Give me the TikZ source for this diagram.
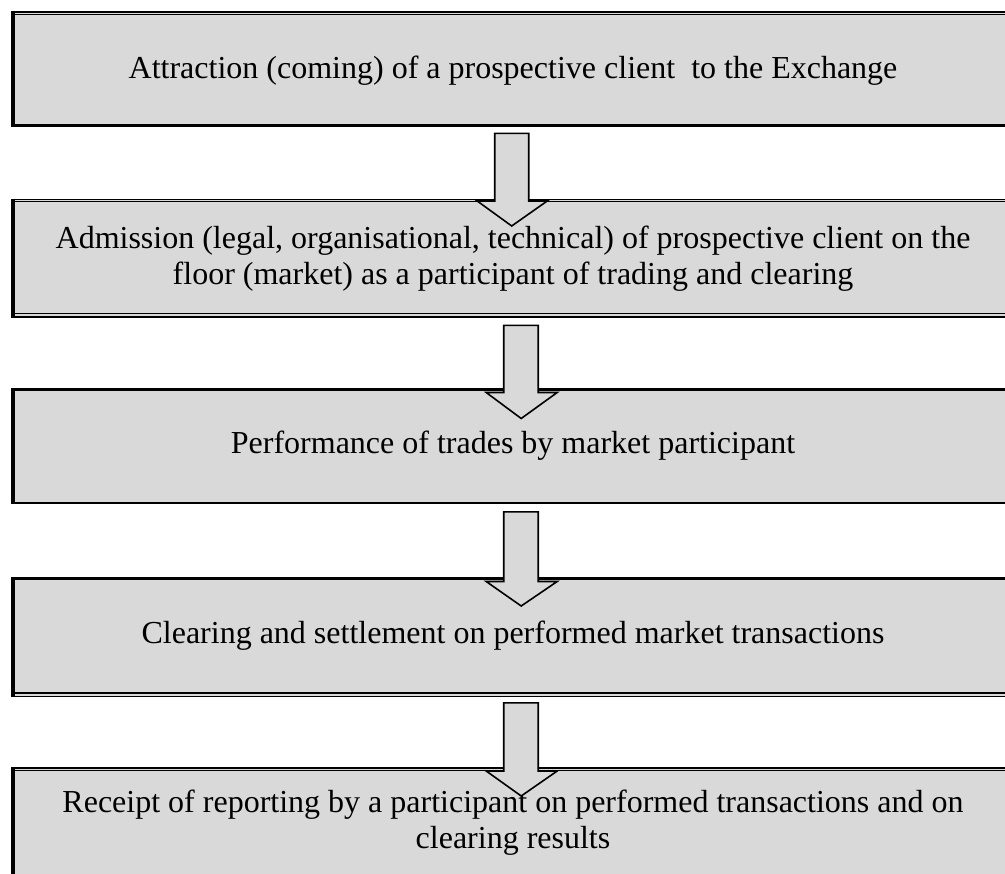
\documentclass[tikz,border=0pt]{standalone}
\usepackage{fontspec}
\setmainfont{Liberation Serif}
\usetikzlibrary{calc}
\definecolor{boxgray}{HTML}{D9D9D9}
\begin{document}
\begin{tikzpicture}[x=1pt,y=-1pt,
  box/.style={fill=boxgray, draw=none, inner sep=0pt, anchor=north west, minimum width=1005pt},
  caption/.style={font=\fontsize{32}{37}\selectfont, inner sep=0pt, anchor=base},
  leftrule/.style={line width=4pt},
  heavyrule/.style={line width=3pt},
  midrule/.style={line width=2pt},
  thinrule/.style={line width=1pt},
  blockarrow/.style={fill=boxgray, draw=black, line width=1.6pt, line join=miter}]
\useasboundingbox (0,0) rectangle (1005,874);
\clip (0,0) rectangle (1005,874);

% process boxes (open on the right side)
\node[box, minimum height=116pt] (b1) at (11,11) {};
\node[box, minimum height=119pt] (b2) at (11,199) {};
\node[box, minimum height=115pt] (b3) at (11,388.5) {};
\node[box, minimum height=119pt] (b4) at (11,577.5) {};
\node[box, minimum height=140pt] (b5) at (11,767) {};

% box 1 edges
\draw[midrule]   ($(b1.north west)+(0,1)$) -- ($(b1.north east)+(0,1)$);
\draw[thinrule]  ($(b1.north west)+(0,4)$) -- ($(b1.north east)+(0,4)$);
\draw[heavyrule] ($(b1.south west)+(0,-1.5)$) -- ($(b1.south east)+(0,-1.5)$);
\draw[leftrule]  ($(b1.north west)+(2,0)$) -- ($(b1.south west)+(2,0)$);

% box 2 edges
\draw[thinrule]  ($(b2.north west)+(0,0.5)$) -- ($(b2.north east)+(0,0.5)$);
\draw[thinrule]  ($(b2.north west)+(0,3)$) -- ($(b2.north east)+(0,3)$);
\draw[thinrule]  ($(b2.south west)+(0,-4.5)$) -- ($(b2.south east)+(0,-4.5)$);
\draw[midrule]   ($(b2.south west)+(0,-1)$) -- ($(b2.south east)+(0,-1)$);
\draw[leftrule]  ($(b2.north west)+(2,0)$) -- ($(b2.south west)+(2,0)$);

% box 3 edges
\draw[heavyrule] ($(b3.north west)+(0,1.5)$) -- ($(b3.north east)+(0,1.5)$);
\draw[midrule]   ($(b3.south west)+(0,-1)$) -- ($(b3.south east)+(0,-1)$);
\draw[leftrule]  ($(b3.north west)+(2,0)$) -- ($(b3.south west)+(2,0)$);

% box 4 edges
\draw[heavyrule] ($(b4.north west)+(0,1.5)$) -- ($(b4.north east)+(0,1.5)$);
\draw[midrule]   ($(b4.south west)+(0,-4)$) -- ($(b4.south east)+(0,-4)$);
\draw[thinrule]  ($(b4.south west)+(0,-0.5)$) -- ($(b4.south east)+(0,-0.5)$);
\draw[leftrule]  ($(b4.north west)+(2,0)$) -- ($(b4.south west)+(2,0)$);

% box 5 edges
\draw[midrule]   ($(b5.north west)+(0,1)$) -- ($(b5.north east)+(0,1)$);
\draw[thinrule]  ($(b5.north west)+(0,3.8)$) -- ($(b5.north east)+(0,3.8)$);
\draw[leftrule]  ($(b5.north west)+(2,0)$) -- ($(b5.south west)+(2,0)$);

% captions, one node per printed line
\node[caption] (t1)  at (513,79)  {Attraction (coming) of a prospective client\ \ to the Exchange};
\node[caption] (t2a) at (513,249) {Admission (legal, organisational, technical) of prospective client on the};
\node[caption] (t2b) at (513,285) {floor (market) as a participant of trading and clearing};
\node[caption] (t3)  at (513,454) {Performance of trades by market participant};
\node[caption] (t4)  at (513,643) {Clearing and settlement on performed market transactions};
\node[caption] (t5a) at (513,812) {Receipt of reporting by a participant on performed transactions and on};
\node[caption] (t5b) at (513,848) {clearing results};

% block arrows between consecutive boxes
\draw[blockarrow] ($(b1.south)+(-19,6)$) -- ($(b1.south)+(15,6)$)
  -- ($(b2.north)+(15,2)$) -- ($(b2.north)+(33.5,2)$) -- ($(b2.north)+(-2,27)$)
  -- ($(b2.north)+(-36.5,2)$) -- ($(b2.north)+(-19,2)$) -- cycle;
\draw[blockarrow] ($(b2.south)+(-10,7)$) -- ($(b2.south)+(24.5,7)$)
  -- ($(b3.north)+(24.5,4)$) -- ($(b3.north)+(43.5,4)$) -- ($(b3.north)+(7.5,30)$)
  -- ($(b3.north)+(-27.5,4)$) -- ($(b3.north)+(-10,4)$) -- cycle;
\draw[blockarrow] ($(b3.south)+(-10,8)$) -- ($(b3.south)+(24.5,8)$)
  -- ($(b4.north)+(24.5,4)$) -- ($(b4.north)+(43.5,4)$) -- ($(b4.north)+(7.5,28.5)$)
  -- ($(b4.north)+(-27.5,4)$) -- ($(b4.north)+(-10,4)$) -- cycle;
\draw[blockarrow] ($(b4.south)+(-10,6)$) -- ($(b4.south)+(24.5,6)$)
  -- ($(b5.north)+(24.5,4)$) -- ($(b5.north)+(43.5,4)$) -- ($(b5.north)+(7.5,29)$)
  -- ($(b5.north)+(-27.5,4)$) -- ($(b5.north)+(-10,4)$) -- cycle;
\end{tikzpicture}
\end{document}
